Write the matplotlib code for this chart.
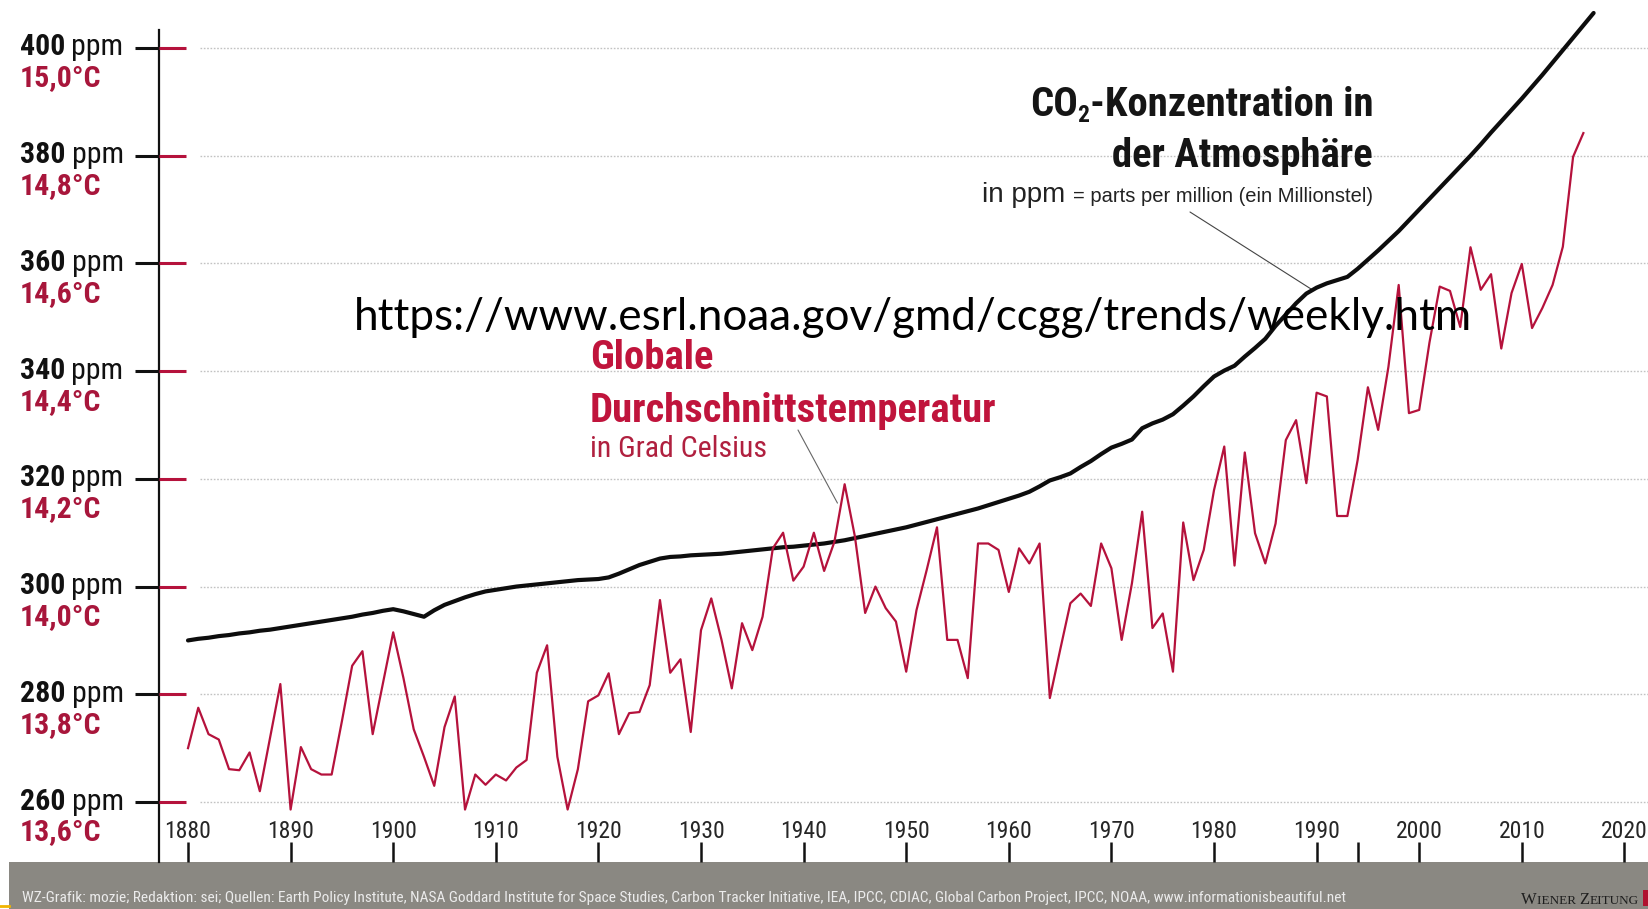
import os
import matplotlib
matplotlib.use("Agg")
import matplotlib.pyplot as plt
from matplotlib import font_manager as fm
from matplotlib.font_manager import FontProperties
from matplotlib.patches import Rectangle
from matplotlib.lines import Line2D

# ---------------- data ----------------
years_co2 = list(range(1880, 2018))
co2_ppm = [
    290.0, 290.3, 290.5, 290.8, 291.0, 291.3, 291.5, 291.8, 292.0, 292.3,
    292.6, 292.9, 293.2, 293.5, 293.8, 294.1, 294.4, 294.8, 295.1, 295.5,
    295.8, 295.4, 294.9, 294.4, 295.6, 296.6, 297.3, 298.0, 298.6, 299.1,
    299.4, 299.7, 300.0, 300.2, 300.4, 300.6, 300.8, 301.0, 301.2, 301.3,
    301.4, 301.7, 302.4, 303.2, 304.0, 304.6, 305.2, 305.5, 305.6, 305.8,
    305.9, 306.0, 306.1, 306.3, 306.5, 306.7, 306.9, 307.1, 307.3, 307.4,
    307.6, 307.8, 308.0, 308.3, 308.6, 309.0, 309.4, 309.8, 310.2, 310.6,
    311.0, 311.5, 312.0, 312.5, 313.0, 313.5, 314.0, 314.5, 315.1, 315.7,
    316.3, 316.9, 317.6, 318.6, 319.7, 320.3, 321.0, 322.2, 323.3, 324.6,
    325.8, 326.5, 327.3, 329.4, 330.3, 331.0, 332.0, 333.6, 335.3, 337.2,
    339.0, 340.1, 341.0, 342.7, 344.3, 346.0, 348.4, 350.5, 352.6, 354.4,
    355.5, 356.3, 356.9, 357.5, 359.0, 360.7, 362.4, 364.2, 366.0, 368.0,
    370.0, 372.0, 374.0, 376.0, 378.0, 380.0, 382.1, 384.3, 386.4, 388.5,
    390.6, 392.8, 395.0, 397.3, 399.6, 401.9, 404.2, 406.5,
]

years_temp = list(range(1880, 2017))
temp_c = [
    13.700, 13.775, 13.726, 13.716, 13.661, 13.659, 13.692, 13.620, 13.720, 13.819,
    13.586, 13.702, 13.661, 13.651, 13.651, 13.750, 13.853, 13.880, 13.726, 13.820,
    13.915, 13.830, 13.735, 13.684, 13.630, 13.739, 13.796, 13.586, 13.651, 13.632,
    13.651, 13.640, 13.664, 13.678, 13.840, 13.891, 13.684, 13.586, 13.661, 13.787,
    13.798, 13.839, 13.726, 13.765, 13.767, 13.817, 13.975, 13.840, 13.865, 13.730,
    13.919, 13.978, 13.901, 13.811, 13.932, 13.882, 13.944, 14.071, 14.100, 14.011,
    14.037, 14.100, 14.029, 14.083, 14.190, 14.093, 13.951, 14.000, 13.960, 13.935,
    13.842, 13.956, 14.031, 14.110, 13.901, 13.901, 13.830, 14.080, 14.080, 14.068,
    13.990, 14.071, 14.043, 14.080, 13.793, 13.882, 13.969, 13.987, 13.964, 14.080,
    14.034, 13.901, 14.006, 14.139, 13.923, 13.950, 13.842, 14.119, 14.012, 14.068,
    14.179, 14.260, 14.039, 14.249, 14.099, 14.043, 14.117, 14.272, 14.309, 14.192,
    14.360, 14.353, 14.131, 14.131, 14.235, 14.370, 14.291, 14.408, 14.560, 14.322,
    14.328, 14.453, 14.557, 14.549, 14.482, 14.630, 14.551, 14.580, 14.442, 14.545,
    14.599, 14.480, 14.517, 14.560, 14.631, 14.798, 14.842,
]

ppm_ticks = [260, 280, 300, 320, 340, 360, 380, 400]
ppm_labels = ["260", "280", "300", "320", "340", "360", "380", "400"]
temp_ticks = [13.6, 13.8, 14.0, 14.2, 14.4, 14.6, 14.8, 15.0]
temp_labels = ["13,6°C", "13,8°C", "14,0°C", "14,2°C", "14,4°C", "14,6°C", "14,8°C", "15,0°C"]
year_ticks = [1880, 1890, 1900, 1910, 1920, 1930, 1940, 1950, 1960, 1970,
              1980, 1990, 2000, 2010, 2020]
year_labels = [str(y) for y in year_ticks]
extra_year_tick = [1994]

co2_title_1 = "-Konzentration in"
co2_title_2 = "der Atmosphäre"
co2_unit_big = "in ppm "
co2_unit_small = "= parts per million (ein Millionstel)"
temp_title_1 = "Globale"
temp_title_2 = "Durchschnittstemperatur"
temp_sub = "in Grad Celsius"
url_text = "https://www.esrl.noaa.gov/gmd/ccgg/trends/weekly.htm"
footer_text = ("WZ-Grafik: mozie; Redaktion: sei; Quellen: Earth Policy Institute, NASA Goddard "
               "Institute for Space Studies, Carbon Tracker Initiative, IEA, IPCC, CDIAC, Global "
               "Carbon Project, IPCC, NOAA, www.informationisbeautiful.net")

# ---------------- fonts ----------------
def _font_index():
    found = {}
    for d in ["/usr/share/fonts", "/usr/local/share/fonts",
              os.path.expanduser("~/.fonts"), os.path.expanduser("~/.local/share/fonts")]:
        if os.path.isdir(d):
            for root, _, files in os.walk(d):
                for f in files:
                    found.setdefault(f.lower(), os.path.join(root, f))
    for e in fm.fontManager.ttflist:
        found.setdefault(os.path.basename(e.fname).lower(), e.fname)
    return found

_FI = _font_index()

def _first(names):
    for n in names:
        if n in _FI:
            return _FI[n]
    return None

BOLD_FILE = _first(["robotocondensed-bold.ttf", "liberationsansnarrow-bold.ttf",
                    "dejavusanscondensed-bold.ttf"])
REG_FILE = _first(["robotocondensed-regular.ttf", "liberationsansnarrow-regular.ttf",
                   "dejavusanscondensed.ttf"])


def fb(size):
    if BOLD_FILE:
        return FontProperties(fname=BOLD_FILE, size=size)
    return FontProperties(family="Liberation Sans", weight="bold", size=size)


def fr(size):
    if REG_FILE:
        return FontProperties(fname=REG_FILE, size=size)
    return FontProperties(family="Liberation Sans", size=size)


def fa(size):
    return FontProperties(family=["Liberation Sans", "DejaVu Sans"], size=size)


# ---------------- figure ----------------
W, H = 1648, 909
fig = plt.figure(figsize=(W / 100, H / 100), dpi=100)
fig.patch.set_facecolor("white")

AX_L, AX_B = 159, 47
ax = fig.add_axes([AX_L / W, AX_B / H, 1 - AX_L / W, (H - AX_B) / H])
x0, x1 = 1877.173, 2022.30
y0, y1 = 248.86, 408.91
ax.set_xlim(x0, x1)
ax.set_ylim(y0, y1)
ax.patch.set_visible(False)

ax2 = ax.twinx()
ax2.set_ylim(13.6 + (y0 - 260) / 100, 13.6 + (y1 - 260) / 100)

for s in ax.spines.values():
    s.set_visible(False)
for s in ax2.spines.values():
    s.set_visible(False)
ax.spines["left"].set_visible(True)
ax.spines["left"].set_bounds(y0, 403.3)
ax.spines["left"].set_linewidth(1.6)
ax.spines["left"].set_color("#111111")

RED = "#b5123c"
RED_TXT = "#a8163b"
BLACK = "#111111"

# y ticks (black outward on CO2 axis, red inward on temperature axis)
ax.set_yticks(ppm_ticks)
ax.tick_params(axis="y", direction="out", length=17.3, width=2.2, color=BLACK,
               labelleft=False)
ax2.yaxis.tick_left()
ax2.set_yticks(temp_ticks)
ax2.tick_params(axis="y", direction="in", length=19.4, width=2.2, color=RED,
                left=True, right=False, labelleft=False, labelright=False)

# x ticks
ax.set_xticks(year_ticks, labels=year_labels, va="center", fontproperties=fr(17),
              color="#262626")
ax.set_xticks(extra_year_tick, minor=True)
ax.tick_params(axis="x", which="both", direction="in", length=14.4, width=1.8,
               color=BLACK, pad=-22.3)

# grid lines
for v in ppm_ticks:
    ax.axhline(v, xmin=(200 - AX_L) / (W - AX_L), xmax=1, color="#c2c2c2",
               lw=1.0, ls=(0, (1.2, 1.2)), zorder=0)

# data lines
ax.plot(years_co2, co2_ppm, color="#0d0d0d", lw=3.0, solid_capstyle="round",
        solid_joinstyle="round", zorder=4, clip_on=False)
ax2.plot(years_temp, temp_c, color=RED, lw=1.6, zorder=3)

# y labels
for v, lab, tl in zip(ppm_ticks, ppm_labels, temp_labels):
    t1 = ax.annotate(lab, xy=(20, v), xycoords=("figure pixels", "data"),
                     xytext=(0, -7.5), textcoords="offset pixels",
                     ha="left", va="baseline", fontproperties=fb(21.5), color=BLACK)
    ax.annotate("ppm", xy=(1, v), xycoords=(t1, "data"),
                xytext=(6, -7.5), textcoords="offset pixels",
                ha="left", va="baseline", fontproperties=fr(21.5), color=BLACK)
    ax.annotate(tl, xy=(20, v), xycoords=("figure pixels", "data"),
                xytext=(0, -38.5), textcoords="offset pixels",
                ha="left", va="baseline", fontproperties=fb(21.5), color=RED_TXT)

# CO2 annotation text
TR = 1373
c3 = fig.text(TR / W, (H - 116) / H, co2_title_1, ha="right", va="baseline",
              fontproperties=fb(29.3), color="#151515")
c2 = ax.annotate("2", xy=(0, 0), xycoords=(c3, "figure pixels"),
                 xytext=(0, H - 122), textcoords=("offset pixels", "figure pixels"),
                 ha="right", va="baseline", fontproperties=fb(17), color="#151515")
ax.annotate("CO", xy=(0, 0), xycoords=(c2, "figure pixels"),
            xytext=(0, H - 116), textcoords=("offset pixels", "figure pixels"),
            ha="right", va="baseline", fontproperties=fb(29.3), color="#151515")
fig.text(TR / W, (H - 167) / H, co2_title_2, ha="right", va="baseline",
         fontproperties=fb(29.3), color="#151515")
cs = fig.text(TR / W, (H - 202) / H, co2_unit_small, ha="right", va="baseline",
              fontproperties=fa(14.5), color="#222222")
ax.annotate(co2_unit_big, xy=(0, 0), xycoords=(cs, "figure pixels"),
            xytext=(0, H - 202), textcoords=("offset pixels", "figure pixels"),
            ha="right", va="baseline", fontproperties=fa(20), color="#222222")
ax.annotate("", xy=(1989.5, 355.2), xycoords="data",
            xytext=(1190, H - 212), textcoords="figure pixels",
            arrowprops=dict(arrowstyle="-", color="#444444", lw=0.8,
                            shrinkA=0, shrinkB=0))

# temperature annotation text
fig.text(590 / W, (H - 369) / H, temp_title_1, ha="left", va="baseline",
         fontproperties=fb(29.3), color="#c0143c")
fig.text(590 / W, (H - 422) / H, temp_title_2, ha="left", va="baseline",
         fontproperties=fb(29.3), color="#c0143c")
fig.text(590 / W, (H - 457) / H, temp_sub, ha="left", va="baseline",
         fontproperties=fr(21.5), color="#b0203f")
ax2.annotate("", xy=(1943.3, 14.155), xycoords="data",
             xytext=(798, H - 430), textcoords="figure pixels",
             arrowprops=dict(arrowstyle="-", color="#666666", lw=0.8,
                             shrinkA=0, shrinkB=0))

# URL overlay
fig.text(354 / W, (H - 330) / H, url_text, ha="left", va="baseline",
         fontfamily="Lato", fontsize=31.7, color="black", zorder=10)

# footer band
fig.add_artist(Rectangle((9 / W, 0), 1 - 9 / W, AX_B / H, transform=fig.transFigure,
                         facecolor="#8a8882", edgecolor="none", zorder=-1))
fig.text(22 / W, 11 / H, footer_text, ha="left", va="center",
         fontproperties=fr(11.05), color="#ececec", zorder=2)
# logo
w1 = fig.text(1521 / W, 5 / H, "W", ha="left", va="baseline",
              fontfamily="Liberation Serif", fontsize=12, color="#1e1e1e", zorder=2)
w2 = ax.annotate("IENER ", xy=(1, 0), xycoords=(w1, "figure pixels"),
                 xytext=(0, 5), textcoords=("offset pixels", "figure pixels"),
                 ha="left", va="baseline", fontfamily="Liberation Serif",
                 fontsize=9.5, color="#1e1e1e", annotation_clip=False)
w3 = ax.annotate("Z", xy=(1, 0), xycoords=(w2, "figure pixels"),
                 xytext=(0, 5), textcoords=("offset pixels", "figure pixels"),
                 ha="left", va="baseline", fontfamily="Liberation Serif",
                 fontsize=12, color="#1e1e1e", annotation_clip=False)
ax.annotate("EITUNG", xy=(1, 0), xycoords=(w3, "figure pixels"),
            xytext=(0, 5), textcoords=("offset pixels", "figure pixels"),
            ha="left", va="baseline", fontfamily="Liberation Serif",
            fontsize=9.5, color="#1e1e1e", annotation_clip=False)
fig.add_artist(Rectangle((1643 / W, 3 / H), 5 / W, 16 / H, transform=fig.transFigure,
                         facecolor="#b0122f", edgecolor="none", zorder=2))
fig.add_artist(Line2D([0, 9 / W], [3 / H, 3 / H], transform=fig.transFigure,
                      color="#f0b400", lw=2.0))

fig.savefig("out.png", dpi=100)
